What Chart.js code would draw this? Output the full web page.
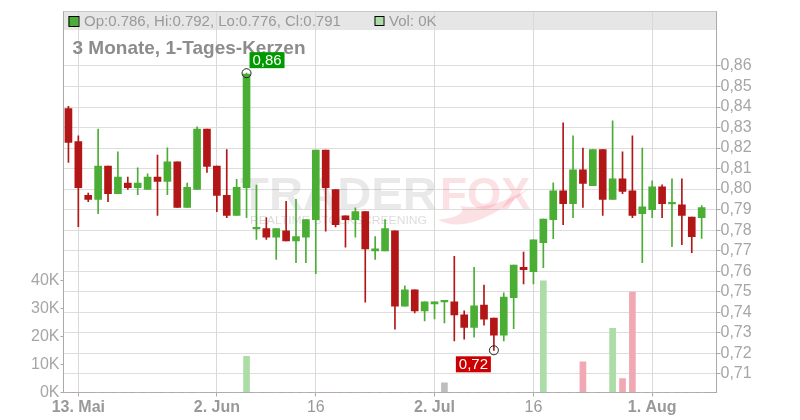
<!DOCTYPE html>
<html>
<head>
<meta charset="utf-8">
<script src="https://cdn.jsdelivr.net/npm/chart.js@4/dist/chart.umd.min.js"></script>
<style>
  html, body { margin: 0; padding: 0; background: #fff; }
  #wrap { width: 800px; height: 420px; position: relative; }
</style>
</head>
<body>
<div id="wrap"><canvas id="kurs"></canvas></div>
<script>
// ── Kursdaten, 1-Tages-Kerzen ───────────────────────────────────────────
var opens = [
  0.8392, 0.8231, 0.7970, 0.7949, 0.8112, 0.7978, 0.8029, 0.8007, 0.7998, 0.8058,
  0.8037, 0.8133, 0.7910, 0.7998, 0.8293, 0.8112, 0.7970, 0.7871, 0.8007, 0.7806,
  0.7807, 0.7766, 0.7797, 0.7747, 0.7766, 0.7851, 0.8190, 0.7997, 0.7870, 0.7851,
  0.7890, 0.7699, 0.7699, 0.7797, 0.7429, 0.7509, 0.7406, 0.7440, 0.7450, 0.7450,
  0.7387, 0.7326, 0.7434, 0.7371, 0.7288, 0.7470, 0.7618, 0.7597, 0.7739, 0.7851,
  0.7991, 0.7929, 0.8094, 0.8017, 0.8192, 0.7949, 0.8050, 0.7991, 0.7880, 0.7900,
  0.8011, 0.7928, 0.7923, 0.7864, 0.786
];
var highs = [
  0.8403, 0.8260, 0.7981, 0.8293, 0.8112, 0.8182, 0.8058, 0.8104, 0.8074, 0.8166,
  0.8201, 0.8133, 0.8029, 0.8304, 0.8293, 0.8112, 0.8192, 0.8048, 0.8565, 0.8019,
  0.7861, 0.7807, 0.7940, 0.7950, 0.7851, 0.8190, 0.8190, 0.7997, 0.7870, 0.7909,
  0.7890, 0.7769, 0.7851, 0.7797, 0.7528, 0.7509, 0.7450, 0.7450, 0.7450, 0.7672,
  0.7406, 0.7618, 0.7532, 0.7371, 0.7494, 0.7630, 0.7693, 0.7752, 0.7854, 0.8030,
  0.8323, 0.8260, 0.8200, 0.8192, 0.8192, 0.8333, 0.8182, 0.8260, 0.8200, 0.8040,
  0.8021, 0.8050, 0.8050, 0.7864, 0.792
];
var lows = [
  0.8130, 0.7817, 0.7939, 0.7880, 0.7939, 0.7978, 0.7998, 0.7973, 0.7998, 0.7871,
  0.7973, 0.7910, 0.7910, 0.7998, 0.8081, 0.7890, 0.7861, 0.7871, 0.7861, 0.7755,
  0.7755, 0.7657, 0.7747, 0.7641, 0.7641, 0.7587, 0.7795, 0.7815, 0.7717, 0.7766,
  0.7449, 0.7657, 0.7699, 0.7317, 0.7429, 0.7396, 0.7357, 0.7367, 0.7348, 0.7260,
  0.7268, 0.7278, 0.7337, 0.7214, 0.7260, 0.7319, 0.7538, 0.7538, 0.7617, 0.7758,
  0.7827, 0.7861, 0.7910, 0.8017, 0.7871, 0.7949, 0.7978, 0.7861, 0.7641, 0.7861,
  0.7861, 0.7719, 0.7729, 0.7690, 0.776
];
var closes = [
  0.8227, 0.8007, 0.7949, 0.8112, 0.7978, 0.8058, 0.8007, 0.8029, 0.8058, 0.8037,
  0.8133, 0.7910, 0.8009, 0.8293, 0.8110, 0.7969, 0.7871, 0.8009, 0.8560, 0.7808,
  0.7766, 0.7807, 0.7747, 0.7769, 0.7851, 0.8190, 0.8007, 0.7826, 0.7851, 0.7890,
  0.7708, 0.7709, 0.7807, 0.7429, 0.7509, 0.7406, 0.7450, 0.7450, 0.7450, 0.7387,
  0.7326, 0.7431, 0.7366, 0.7288, 0.7473, 0.7630, 0.7607, 0.7752, 0.7854, 0.7991,
  0.7929, 0.8094, 0.8027, 0.8192, 0.7949, 0.8050, 0.7988, 0.7871, 0.7913, 0.8011,
  0.7929, 0.7930, 0.7871, 0.7768, 0.791
];
var volumes = [
  0, 0, 0, 0, 0, 0, 0, 0, 0, 0,
  0, 0, 0, 0, 0, 0, 0, 0, 13000, 0,
  0, 0, 0, 0, 0, 0, 0, 0, 0, 0,
  0, 0, 0, 0, 0, 0, 0, 0, 3500, 0,
  0, 0, 0, 0, 0, 0, 0, 0, 40000, 0,
  0, 0, 11000, 0, 0, 23000, 5000, 36000, 0, 0,
  0, 0, 0, 0, 0
];

// ── Achsenbeschriftung ───────────────────────────────────────────────────
var dayTickIdx  = [1, 15, 25, 37, 47, 59];
var dayTickText = ['13. Mai', '2. Jun', '16', '2. Jul', '16', '1. Aug'];
var dayTickBold = [true, true, false, true, false, true];
var priceTicks  = [0.71, 0.72, 0.73, 0.74, 0.75, 0.76, 0.77, 0.78, 0.79, 0.80,
                   0.81, 0.82, 0.83, 0.84, 0.85, 0.86];
var volTicks    = [0, 10000, 20000, 30000, 40000];
var chartTitle  = '3 Monate, 1-Tages-Kerzen';

var GREEN = '#4aad34', RED = '#b31616';
var FONT = '"Liberation Sans", Arial, sans-serif';

var last = closes.length - 1;
var bodies = [], wicks = [], vols = [], candleCol = [], volCol = [];
for (var i = 0; i < closes.length; i++) {
    bodies.push({ x: i, y: [opens[i], closes[i]] });
    wicks.push({ x: i, y: [lows[i], highs[i]] });
    vols.push({ x: i, y: volumes[i] });
    candleCol.push(closes[i] >= opens[i] ? GREEN : RED);
    if (closes[i] === opens[i]) volCol.push('rgb(190,190,190)');
    else volCol.push(closes[i] > opens[i] ? 'rgb(172,221,166)' : 'rgb(240,168,178)');
}

// Hoch / Tief im Zeitraum
var hiIdx = 0, loIdx = 0;
for (var j = 1; j < closes.length; j++) {
    if (highs[j] > highs[hiIdx]) hiIdx = j;
    if (lows[j] < lows[loIdx]) loIdx = j;
}
function komma(v, n) { return v.toFixed(n).replace('.', ','); }

function drawMark(ctx, x, y, text, fill, up) {
    ctx.beginPath();
    ctx.arc(x, y, 4.5, 0, Math.PI * 2);
    ctx.lineWidth = 1;
    ctx.strokeStyle = '#222';
    ctx.stroke();
    var bx = up ? x + 3 : x - 38;
    var by = up ? y - 21 : y + 6;
    ctx.fillStyle = fill;
    ctx.fillRect(bx, by, 35, 16);
    ctx.fillStyle = '#fff';
    ctx.font = '15px ' + FONT;
    ctx.textAlign = 'center';
    ctx.textBaseline = 'middle';
    ctx.fillText(text, bx + 17.5, by + 8.5);
}

var decor = {
    id: 'decor',
    beforeDraw: function(chart) {
        var ctx = chart.ctx, a = chart.chartArea;
        ctx.save();
        ctx.fillStyle = '#fff';
        ctx.fillRect(0, 0, chart.width, chart.height);
        ctx.fillStyle = '#e6e6e6';
        ctx.fillRect(a.left, a.top, a.right - a.left, 19);
        ctx.restore();
    },
    beforeDatasetsDraw: function(chart) {
        // Wasserzeichen
        var ctx = chart.ctx, a = chart.chartArea;
        var cx = (a.left + a.right) / 2, cy = (a.top + a.bottom) / 2;
        ctx.save();
        ctx.font = 'bold 44px ' + FONT;
        ctx.textBaseline = 'alphabetic';
        ctx.fillStyle = 'rgba(0,0,0,0.085)';
        var w = ctx.measureText('TRADER').width;
        ctx.save();
        ctx.translate(cx - 150, cy + 7);
        ctx.scale(197 / w, 1);
        ctx.fillText('TRADER', 0, 0);
        ctx.restore();
        ctx.fillStyle = 'rgba(235,70,85,0.16)';
        ctx.fillText('FOX', cx + 50, cy + 7);
        // Fuchsschwanz
        ctx.beginPath();
        ctx.moveTo(cx + 48, cy + 18);
        ctx.quadraticCurveTo(cx + 80, cy + 36, cx + 140, cy - 14);
        ctx.quadraticCurveTo(cx + 100, cy + 10, cx + 70, cy + 4);
        ctx.quadraticCurveTo(cx + 80, cy + 14, cx + 48, cy + 18);
        ctx.fill();
        ctx.font = '11px ' + FONT;
        ctx.fillStyle = 'rgba(0,0,0,0.15)';
        var w2 = ctx.measureText('REALTIME STOCKSCREENING').width;
        ctx.translate(cx - 140, cy + 22);
        ctx.scale(177 / w2, 1);
        ctx.fillText('REALTIME STOCKSCREENING', 0, 0);
        ctx.restore();
    },
    afterDraw: function(chart) {
        var ctx = chart.ctx, a = chart.chartArea;
        var xs = chart.scales.x, ys = chart.scales.y;
        ctx.save();
        ctx.strokeStyle = '#c8c8c8';
        ctx.lineWidth = 1;
        ctx.beginPath();
        ctx.moveTo(a.left, a.top + 0.5);
        ctx.lineTo(a.right, a.top + 0.5);
        ctx.stroke();

        // Kopfzeile
        ctx.lineWidth = 1;
        ctx.fillStyle = candleCol[last];
        ctx.fillRect(a.left + 5, a.top + 5, 10, 10);
        ctx.strokeStyle = '#000';
        ctx.strokeRect(a.left + 5.5, a.top + 5.5, 10, 10);
        ctx.fillStyle = volCol[last] === 'rgb(190,190,190)' ? 'rgb(172,221,166)' : volCol[last];
        ctx.fillRect(a.left + 311, a.top + 5, 9, 9);
        ctx.strokeRect(a.left + 311.5, a.top + 5.5, 9, 9);
        ctx.fillStyle = '#999';
        ctx.font = '15px ' + FONT;
        ctx.textAlign = 'left';
        ctx.textBaseline = 'alphabetic';
        ctx.fillText('Op:' + opens[last].toFixed(3) + ', Hi:' + highs[last].toFixed(3) +
                     ', Lo:' + lows[last].toFixed(3) + ', Cl:' + closes[last].toFixed(3),
                     a.left + 20.5, a.top + 15);
        ctx.fillText('Vol: ' + Math.round(volumes[last] / 1000) + 'K', a.left + 325.5, a.top + 15);

        ctx.fillStyle = '#8c8c8c';
        ctx.font = 'bold 19px ' + FONT;
        ctx.fillText(chartTitle, a.left + 9, a.top + 43);

        drawMark(ctx, xs.getPixelForValue(hiIdx), ys.getPixelForValue(highs[hiIdx]),
                 komma(highs[hiIdx], 2), '#009a00', true);
        drawMark(ctx, xs.getPixelForValue(loIdx), ys.getPixelForValue(lows[loIdx]),
                 komma(lows[loIdx], 2), '#cc0000', false);
        ctx.restore();
    }
};

Chart.defaults.font.family = FONT;

new Chart(document.getElementById('kurs'), {
    type: 'bar',
    data: {
        datasets: [
            { label: 'Kerze', data: bodies, backgroundColor: candleCol, barThickness: 7,
              grouped: false, minBarLength: 1.5, order: 0, yAxisID: 'y' },
            { label: 'Docht', data: wicks, backgroundColor: candleCol, barThickness: 1,
              grouped: false, order: 1, yAxisID: 'y' },
            { label: 'Vol', data: vols, backgroundColor: volCol, barThickness: 6,
              grouped: false, order: 2, yAxisID: 'yv' }
        ]
    },
    options: {
        responsive: true,
        maintainAspectRatio: false,
        animation: false,
        layout: { padding: { top: 11, left: 0, right: 0, bottom: 0 } },
        plugins: { legend: { display: false }, tooltip: { enabled: false } },
        scales: {
            x: {
                type: 'linear', min: -0.5, max: 65.5, offset: false,
                afterBuildTicks: function(s) { s.ticks = dayTickIdx.map(function(v) { return { value: v }; }); },
                afterFit: function(s) { s.height = 27.5; },
                grid: { offset: false, color: '#d9d9d9', tickLength: 4, tickColor: '#aaa' },
                border: { color: '#aaa' },
                ticks: {
                    padding: 1, color: '#999', maxRotation: 0, autoSkip: false,
                    font: function(c) { return { size: 16, weight: dayTickBold[c.index] ? 'bold' : 'normal' }; },
                    callback: function(v, i) { return dayTickText[i]; }
                }
            },
            y: {
                position: 'right', min: 0.70083, max: 0.88681,
                afterBuildTicks: function(s) { s.ticks = priceTicks.map(function(v) { return { value: v }; }); },
                afterFit: function(s) { s.width = 83.5; },
                grid: { color: '#dddddd', tickLength: 4, tickColor: '#aaa' },
                border: { color: '#aaa' },
                ticks: { padding: 0, color: '#a6a6a6', font: { size: 16 },
                         callback: function(v) { return komma(v, 2); } }
            },
            yv: {
                position: 'left', min: 0, max: 136740,
                afterBuildTicks: function(s) { s.ticks = volTicks.map(function(v) { return { value: v }; }); },
                afterFit: function(s) { s.width = 63.5; },
                grid: { drawOnChartArea: false, tickLength: 3, tickColor: '#aaa' },
                border: { color: '#aaa' },
                ticks: { padding: 1, color: '#a6a6a6', font: { size: 16 },
                         callback: function(v) { return (v / 1000) + 'K'; } }
            }
        }
    },
    plugins: [decor]
});
</script>
</body>
</html>
